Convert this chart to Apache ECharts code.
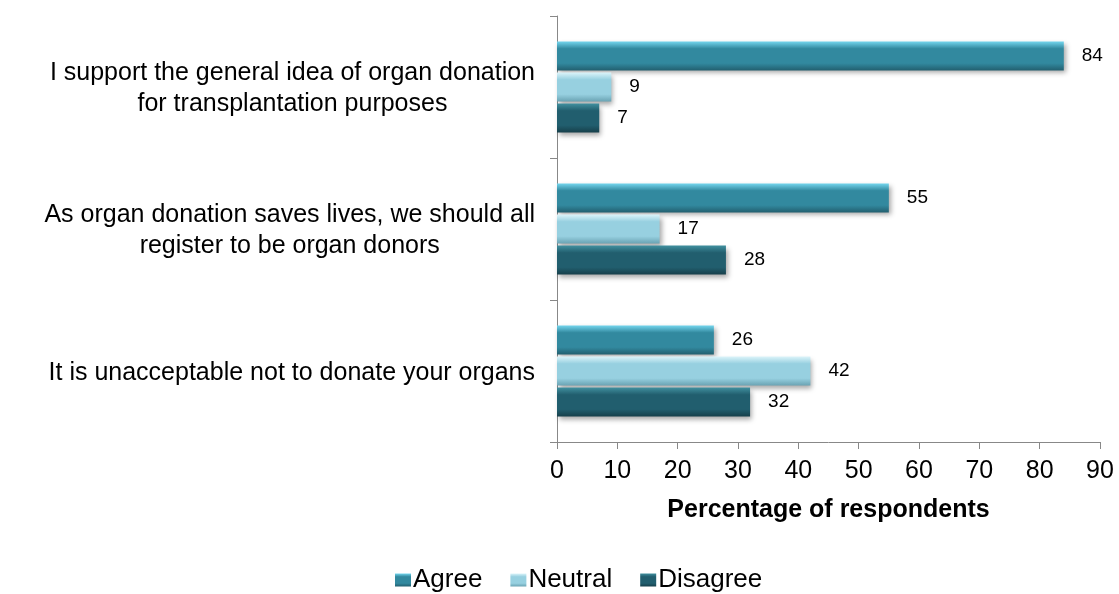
<!DOCTYPE html>
<html>
<head>
<meta charset="utf-8">
<script src="https://cdn.jsdelivr.net/npm/echarts@6/dist/echarts.min.js"></script>
<style>
  html, body { margin: 0; padding: 0; background: #fff; }
  #chart { width: 1119px; height: 594px; }
</style>
</head>
<body>
<div id="chart"></div>
<script>
const categories = [
  'I support the general idea of organ donation\nfor transplantation purposes',
  'As organ donation saves lives, we should all\nregister to be organ donors',
  'It is unacceptable not to donate your organs'
];
const agree = [84, 55, 26];
const neutral = [9, 17, 42];
const disagree = [7, 28, 32];
const xTicks = [0, 10, 20, 30, 40, 50, 60, 70, 80, 90];

const FONT = '"Liberation Sans", Arial, sans-serif';

function bevel(top, mid, bottom) {
  return new echarts.graphic.LinearGradient(0, 0, 0, 1, [
    { offset: 0, color: top },
    { offset: 0.25, color: mid },
    { offset: 0.75, color: mid },
    { offset: 1, color: bottom }
  ]);
}

const seriesDefs = [
  { name: 'Agree', data: agree, colors: ['#74d6ee', '#32899f', '#225f6f'] },
  { name: 'Neutral', data: neutral, colors: ['#dcf4fa', '#97d0e0', '#6aa3b3'] },
  { name: 'Disagree', data: disagree, colors: ['#41909f', '#215e6e', '#163f4a'] }
];

const chart = echarts.init(document.getElementById('chart'));

chart.setOption({
  backgroundColor: '#fff',
  animation: false,
  textStyle: { fontFamily: FONT },
  grid: { left: 557, right: 19, top: 16, bottom: 152, containLabel: false },
  legend: {
    top: 562,
    left: 390,
    itemWidth: 16,
    itemHeight: 13,
    itemGap: 28,
    icon: 'rect',
    textStyle: { fontSize: 26, color: '#000', fontFamily: FONT, padding: [0, 0, 0, -3] },
    data: seriesDefs.map(s => ({ name: s.name, itemStyle: { color: bevel(...s.colors) } }))
  },
  xAxis: {
    type: 'value',
    min: 0,
    max: 90,
    interval: 10,
    name: 'Percentage of respondents',
    nameLocation: 'middle',
    nameGap: 56,
    nameTextStyle: { fontSize: 25, fontWeight: 'bold', color: '#000', fontFamily: FONT },
    axisLine: { show: true, lineStyle: { color: '#888', width: 1 } },
    axisTick: { show: true, length: 7, inside: false, lineStyle: { color: '#888' } },
    axisLabel: {
      fontSize: 25, color: '#000', margin: 17, fontFamily: FONT,
      formatter: v => (xTicks.indexOf(v) >= 0 ? String(v) : '')
    },
    splitLine: { show: false }
  },
  yAxis: {
    type: 'category',
    inverse: true,
    data: categories,
    axisLine: { show: true, lineStyle: { color: '#888', width: 1 } },
    axisTick: { show: true, length: 7, lineStyle: { color: '#888' } },
    axisLabel: {
      margin: 22,
      color: '#000',
      fontSize: 25,
      fontFamily: FONT,
      lineHeight: 31,
      padding: [4, 0, 0, 0],
      formatter: v => v.split('\n').map(l => '{c|' + l + '}').join('\n'),
      rich: { c: { align: 'center', fontSize: 25, fontFamily: FONT, color: '#000', lineHeight: 31 } }
    }
  },
  series: seriesDefs.map(s => ({
    name: s.name,
    type: 'bar',
    data: s.data,
    barWidth: 29,
    barGap: '7%',
    itemStyle: {
      color: bevel(...s.colors),
      shadowBlur: 5,
      shadowOffsetX: 2,
      shadowOffsetY: 3,
      shadowColor: 'rgba(0,0,0,0.35)'
    },
    label: {
      show: true,
      position: 'right',
      distance: 18,
      fontSize: 19,
      color: '#000',
      fontFamily: FONT
    }
  }))
});
</script>
</body>
</html>
